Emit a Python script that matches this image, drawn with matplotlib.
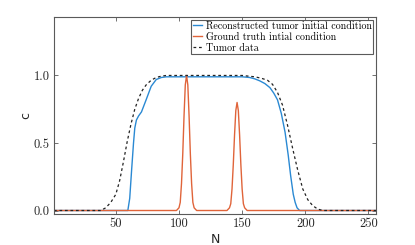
import matplotlib
matplotlib.use('Agg')
import matplotlib.pyplot as plt

# Reconstructed tumor initial condition
n_rec = [1, 56, 59.5, 61, 62.5, 64, 65, 66.3, 68, 70.3, 74, 78, 82, 86, 90,
         150, 156, 160, 164, 168, 172, 175, 178, 181, 184, 186.5, 188.4,
         190.5, 192, 193.5, 195.5, 256]
c_rec = [0, 0, 0, 0.09, 0.3, 0.5, 0.61, 0.67, 0.7, 0.73, 0.82, 0.92, 0.97,
         0.985, 0.99, 0.99, 0.985, 0.975, 0.96, 0.94, 0.91, 0.87, 0.82,
         0.72, 0.58, 0.41, 0.26, 0.12, 0.06, 0.02, 0, 0]

# Ground truth initial condition
n_gt = [1, 98, 100, 101, 102, 103, 104, 105, 106, 107, 108, 109, 110, 111,
        112, 114, 138, 140, 141, 142, 143, 144, 145, 146, 147, 148, 149,
        150, 151, 152, 154, 256]
c_gt = [0, 0, 0.02, 0.06, 0.2, 0.42, 0.7, 0.93, 1.0, 0.93, 0.7, 0.42, 0.2,
        0.06, 0.02, 0, 0, 0.02, 0.05, 0.16, 0.34, 0.56, 0.74, 0.8, 0.74,
        0.56, 0.34, 0.16, 0.05, 0.02, 0, 0]

# Tumor data
n_dat = [1, 38, 42, 46, 50, 53, 56, 59, 62, 65, 68, 71, 74, 78, 82, 86, 90,
         150, 160, 165, 170, 174, 178, 182, 186, 190, 194, 198, 202, 206,
         210, 214, 256]
c_dat = [0, 0, 0.02, 0.06, 0.12, 0.22, 0.36, 0.51, 0.64, 0.75, 0.83, 0.89,
         0.93, 0.965, 0.985, 0.995, 1.0, 1.0, 0.99, 0.98, 0.965, 0.935,
         0.875, 0.78, 0.63, 0.46, 0.3, 0.16, 0.08, 0.035, 0.01, 0, 0]

x_ticks = [50, 100, 150, 200, 250]
y_ticks = [0.0, 0.5, 1.0]

blue = '#2a89d3'
orange = '#e0643a'
edge = '#5a5a5a'

fig = plt.figure(figsize=(4.15, 2.45), dpi=100)
ax = fig.add_axes([0.130, 0.127, 0.776, 0.802])

ax.plot(n_rec, c_rec, color=blue, lw=1.0,
        label='Reconstructed tumor initial condition')
ax.plot(n_gt, c_gt, color=orange, lw=1.0,
        label='Ground truth intial condition')
ax.plot(n_dat, c_dat, color='#222222', lw=0.9, ls=(0, (2.2, 2.2)),
        label='Tumor data')

ax.set_xlim(1, 256)
ax.set_ylim(-0.025, 1.43)
ax.set_xticks(x_ticks)
ax.set_yticks(y_ticks)
ax.set_xticklabels([str(t) for t in x_ticks], fontfamily='cmr10', fontsize=9)
ax.set_yticklabels([f'{t:.1f}' for t in y_ticks], fontfamily='cmr10', fontsize=9)
ax.tick_params(direction='in', length=3, width=0.6, color=edge, pad=3,
               top=True, right=True, labelcolor='#262626')
for s in ax.spines.values():
    s.set_color(edge)
    s.set_linewidth(0.8)

ax.set_xlabel('N', fontsize=9, color='#262626', labelpad=2)
ax.set_ylabel('c', fontsize=9, color='#262626', labelpad=1)

leg = ax.legend(loc='upper right', prop={'family': 'cmr10', 'size': 7.2},
                handlelength=0.9, handletextpad=0.4, borderpad=0.15,
                labelspacing=0.15, borderaxespad=0.25, fancybox=False,
                framealpha=1, edgecolor=edge)
leg.get_frame().set_linewidth(0.8)

fig.savefig('out.png', dpi=100)
